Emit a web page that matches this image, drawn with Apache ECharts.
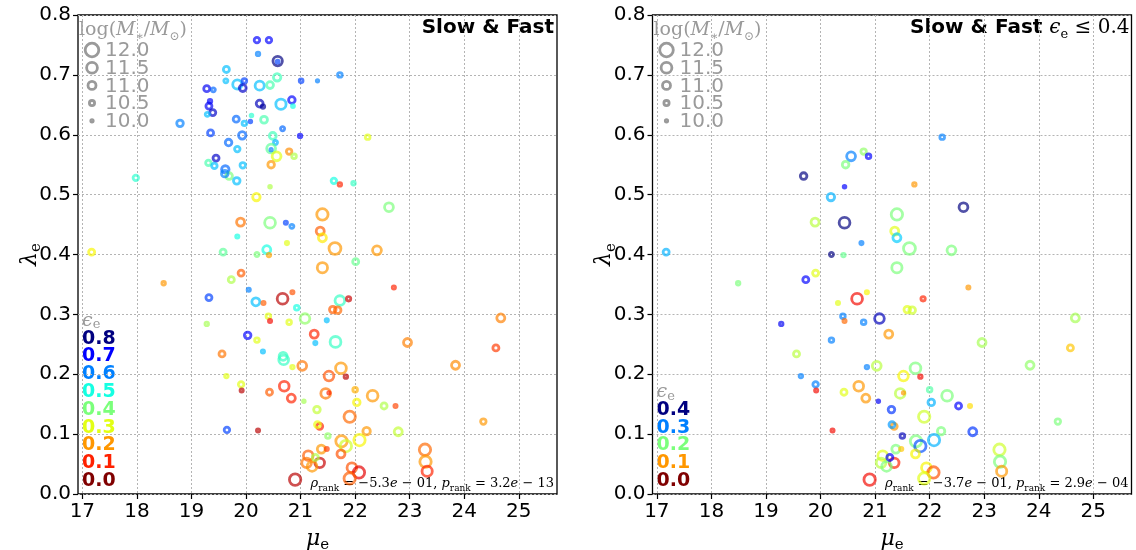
<!DOCTYPE html>
<html>
<head>
<meta charset="utf-8">
<script src="https://cdn.jsdelivr.net/npm/echarts@6/dist/echarts.min.js"></script>
<style>
  html, body { margin: 0; padding: 0; background: #fff; }
  #chart { width: 1136px; height: 550px; }
</style>
</head>
<body>
<div id="chart"></div>
<script>
// Galaxy sample: effective surface brightness, spin parameter, stellar mass, ellipticity
const MU = [
  20.20, 20.42, 20.22, 20.58, 20.58, 19.64, 19.63, 19.84, 19.97, 19.94,
  20.25, 20.44, 20.57, 21.01, 21.31, 19.28, 19.40, 19.34, 19.32, 19.39,
  19.29, 18.79, 20.25, 20.31, 20.64, 20.84, 20.86, 19.82, 19.97, 20.08,
  20.10, 20.33, 19.35, 19.93, 19.68, 19.84, 20.49, 20.54, 20.46, 20.46,
  20.56, 20.67, 20.99, 20.79, 20.88, 19.45, 19.31, 19.42, 19.62, 19.94,
  20.46, 19.69, 19.61, 19.83, 17.98, 21.72, 22.23, 20.44, 20.19, 19.90,
  20.44, 20.73, 20.84, 19.84, 20.75, 17.17, 19.58, 20.20, 20.38, 20.42,
  18.49, 19.91, 19.73, 20.05, 19.32, 20.18, 20.32, 20.67, 20.85, 20.93,
  21.08, 19.28, 20.41, 20.44, 20.79, 20.03, 20.20, 21.25, 21.61, 21.72,
  21.97, 22.62, 21.40, 21.36, 21.40, 21.63, 22.40, 22.01, 21.40, 22.71,
  21.72, 21.88, 21.59, 21.68, 21.48, 24.67, 21.64, 22.96, 24.58, 23.84,
  21.74, 21.52, 21.83, 22.00, 21.46, 21.52, 22.32, 22.03, 22.53, 22.74,
  21.30, 21.90, 24.35, 21.35, 21.31, 22.21, 22.79, 21.50, 21.75, 21.83,
  22.08, 21.38, 21.48, 21.74, 23.28, 23.29, 23.32, 21.35, 21.94, 22.07,
  21.90, 19.56, 20.31, 20.68, 20.69, 20.85, 21.03, 21.27, 19.64, 19.91,
  19.92, 20.43, 20.70, 20.83, 21.06, 19.65, 20.22, 21.14, 21.11, 21.21,
  20.90, 21.27
];
const LAMBDA = [
  0.758, 0.758, 0.735, 0.723, 0.722, 0.709, 0.690, 0.684, 0.690, 0.678,
  0.682, 0.683, 0.696, 0.690, 0.690, 0.677, 0.675, 0.656, 0.648, 0.637,
  0.634, 0.619, 0.652, 0.647, 0.651, 0.658, 0.648, 0.626, 0.619, 0.622,
  0.632, 0.625, 0.603, 0.599, 0.587, 0.576, 0.598, 0.587, 0.577, 0.575,
  0.564, 0.610, 0.598, 0.572, 0.564, 0.561, 0.553, 0.548, 0.542, 0.549,
  0.550, 0.531, 0.535, 0.523, 0.528, 0.700, 0.596, 0.513, 0.496, 0.454,
  0.453, 0.453, 0.447, 0.430, 0.419, 0.404, 0.404, 0.400, 0.408, 0.399,
  0.352, 0.369, 0.358, 0.341, 0.328, 0.321, 0.319, 0.326, 0.337, 0.311,
  0.293, 0.284, 0.297, 0.289, 0.287, 0.265, 0.257, 0.267, 0.523, 0.517,
  0.519, 0.479, 0.467, 0.439, 0.428, 0.410, 0.407, 0.388, 0.378, 0.345,
  0.323, 0.326, 0.308, 0.307, 0.290, 0.294, 0.254, 0.253, 0.244, 0.215,
  0.210, 0.197, 0.196, 0.174, 0.168, 0.169, 0.164, 0.153, 0.147, 0.147,
  0.141, 0.129, 0.121, 0.113, 0.116, 0.105, 0.104, 0.097, 0.088, 0.080,
  0.090, 0.075, 0.075, 0.067, 0.074, 0.054, 0.038, 0.052, 0.044, 0.036,
  0.026, 0.234, 0.238, 0.230, 0.224, 0.212, 0.214, 0.252, 0.197, 0.183,
  0.173, 0.170, 0.180, 0.160, 0.155, 0.107, 0.106, 0.064, 0.052, 0.046,
  0.024, 0.061
];
const LOGM = [
  10.55, 10.55, 10.20, 11.25, 10.10, 10.65, 10.30, 11.20, 10.40, 10.80,
  11.20, 10.80, 10.90, 10.25, 10.00, 10.65, 10.30, 10.20, 10.65, 10.65,
  10.30, 10.75, 10.80, 10.20, 11.40, 10.75, 10.10, 10.65, 10.40, 10.05,
  10.05, 10.80, 10.65, 10.90, 10.75, 10.55, 10.80, 10.30, 11.15, 10.00,
  11.15, 10.30, 10.20, 10.55, 10.40, 10.65, 10.55, 10.55, 10.90, 10.55,
  10.75, 10.75, 10.75, 10.75, 10.55, 10.40, 10.40, 10.05, 10.90, 11.00,
  11.50, 10.15, 10.30, 10.15, 10.15, 10.65, 10.65, 10.30, 11.00, 10.20,
  10.20, 10.65, 10.65, 10.15, 10.65, 11.00, 10.15, 11.50, 10.15, 10.40,
  11.30, 10.20, 10.40, 10.15, 10.40, 10.75, 10.40, 11.00, 10.55, 10.20,
  10.20, 11.15, 11.60, 11.00, 11.00, 11.70, 11.15, 10.65, 11.40, 10.15,
  11.30, 10.35, 10.75, 10.75, 10.15, 11.00, 11.50, 11.00, 10.65, 11.00,
  11.50, 11.30, 10.20, 10.40, 11.30, 10.00, 11.50, 10.75, 10.65, 10.15,
  10.75, 11.60, 10.55, 10.65, 10.65, 10.90, 11.00, 10.40, 11.60, 11.60,
  11.60, 11.00, 10.15, 11.00, 11.60, 11.60, 11.40, 11.30, 11.30, 11.60,
  11.60, 10.65, 10.15, 11.00, 11.30, 10.20, 11.15, 10.15, 10.20, 10.55,
  10.15, 10.65, 11.30, 11.00, 10.05, 10.55, 10.15, 11.30, 11.30, 11.30,
  11.60, 10.65
];
const EPS = [
  0.70, 0.70, 0.60, 0.80, 0.65, 0.55, 0.55, 0.55, 0.65, 0.75,
  0.55, 0.45, 0.46, 0.65, 0.60, 0.72, 0.62, 0.70, 0.72, 0.75,
  0.55, 0.60, 0.76, 0.78, 0.55, 0.70, 0.50, 0.62, 0.55, 0.65,
  0.48, 0.45, 0.65, 0.62, 0.62, 0.55, 0.46, 0.56, 0.43, 0.60,
  0.30, 0.62, 0.70, 0.19, 0.35, 0.75, 0.45, 0.55, 0.62, 0.55,
  0.20, 0.40, 0.60, 0.55, 0.48, 0.60, 0.30, 0.35, 0.28, 0.17,
  0.40, 0.65, 0.60, 0.50, 0.30, 0.28, 0.43, 0.40, 0.50, 0.21,
  0.20, 0.15, 0.35, 0.60, 0.65, 0.55, 0.15, 0.04, 0.14, 0.50,
  0.38, 0.36, 0.30, 0.08, 0.30, 0.70, 0.30, 0.10, 0.50, 0.10,
  0.47, 0.40, 0.20, 0.15, 0.27, 0.20, 0.20, 0.42, 0.20, 0.10,
  0.47, 0.05, 0.15, 0.16, 0.55, 0.18, 0.47, 0.18, 0.12, 0.19,
  0.20, 0.14, 0.04, 0.22, 0.17, 0.10, 0.20, 0.28, 0.35, 0.13,
  0.33, 0.16, 0.20, 0.10, 0.29, 0.20, 0.33, 0.38, 0.20, 0.32,
  0.28, 0.20, 0.12, 0.14, 0.16, 0.20, 0.10, 0.05, 0.14, 0.07,
  0.15, 0.17, 0.55, 0.47, 0.47, 0.30, 0.17, 0.55, 0.30, 0.30,
  0.04, 0.15, 0.10, 0.10, 0.36, 0.65, 0.04, 0.15, 0.17, 0.20,
  0.04, 0.35
];

// Axis ticks and legend entries
const X_TICKS = [17, 18, 19, 20, 21, 22, 23, 24, 25];
const Y_TICKS = [0.0, 0.1, 0.2, 0.3, 0.4, 0.5, 0.6, 0.7, 0.8];
const MASS_KEYS = [12.0, 11.5, 11.0, 10.5, 10.0];
const EPS_KEYS_ALL = [0.8, 0.7, 0.6, 0.5, 0.4, 0.3, 0.2, 0.1, 0.0];
const EPS_KEYS_LOW = [0.4, 0.3, 0.2, 0.1, 0.0];
const EPS_CUT = 0.4;
const RHO_RANK = ['\u22125.3', '\u22123.7'];
const RHO_EXP = ['01', '01'];
const P_RANK = ['3.2', '2.9'];
const P_EXP = ['13', '04'];

// ---- helpers ----
const JET = {
  r: [[0, 0], [0.35, 0], [0.66, 1], [0.89, 1], [1, 0.5]],
  g: [[0, 0], [0.125, 0], [0.375, 1], [0.64, 1], [0.91, 0], [1, 0]],
  b: [[0, 0.5], [0.11, 1], [0.34, 1], [0.65, 0], [1, 0]]
};
function seg(pts, t) {
  for (let i = 1; i < pts.length; i++) {
    if (t <= pts[i][0]) {
      const [x0, y0] = pts[i - 1], [x1, y1] = pts[i];
      return y0 + (y1 - y0) * (t - x0) / (x1 - x0);
    }
  }
  return pts[pts.length - 1][1];
}
// reversed jet: high ellipticity -> dark blue, round -> dark red
function epsColor(e, vmax, alpha) {
  const t = 1 - Math.min(Math.max(e / vmax, 0), 1);
  const r = Math.round(255 * seg(JET.r, t));
  const g = Math.round(255 * seg(JET.g, t));
  const b = Math.round(255 * seg(JET.b, t));
  return 'rgba(' + r + ',' + g + ',' + b + ',' + alpha + ')';
}
const RING = 2.8;
function ringDiameter(m) { return 5.2 + 5.6 * (m - 10); }

function buildData(vmax, cut) {
  const out = [];
  for (let i = 0; i < MU.length; i++) {
    if (EPS[i] > cut + 1e-9) continue;
    out.push({
      value: [MU[i], LAMBDA[i], LOGM[i], EPS[i]],
      symbolSize: Math.max(ringDiameter(LOGM[i]) - RING, 0.5),
      itemStyle: {
        color: 'rgba(255,255,255,0)',
        borderColor: epsColor(EPS[i], vmax, 0.85),
        borderWidth: RING
      }
    });
  }
  return out;
}

const GRID_TOP = 15, GRID_H = 479, GRID_W = 479;
const PANELS = [
  { left: 78, vmax: 0.8, cut: 1.0, keys: EPS_KEYS_ALL },
  { left: 652.5, vmax: 0.4, cut: EPS_CUT, keys: EPS_KEYS_LOW }
];

const SERIF = '"DejaVu Serif", "Liberation Serif", serif';
const SANS = '"DejaVu Sans", sans-serif';
const GREY = '#9a9a9a';

const grids = [], xAxes = [], yAxes = [], series = [], graphics = [];

PANELS.forEach((p, k) => {
  grids.push({
    left: p.left, top: GRID_TOP, width: GRID_W, height: GRID_H,
    show: true, borderColor: '#000', borderWidth: 1.3, backgroundColor: 'transparent'
  });
  xAxes.push({
    type: 'value', gridIndex: k, min: 16.92, max: 25.70,
    minInterval: 1, maxInterval: 1,
    axisLine: { show: false },
    axisTick: { show: true, inside: false, length: 5, customValues: X_TICKS,
                lineStyle: { color: '#000', width: 1.2 } },
    axisLabel: { customValues: X_TICKS, margin: 8, color: '#000',
                 fontFamily: SANS, fontSize: 20,
                 formatter: v => (Math.abs(v - Math.round(v)) < 1e-6 ? String(Math.round(v)) : '') },
    splitLine: { show: true, lineStyle: { color: '#b4b4b4', width: 1, type: [2, 2] } }
  });
  yAxes.push({
    type: 'value', gridIndex: k, min: 0, max: 0.8, interval: 0.1,
    axisLine: { show: false },
    axisTick: { show: true, inside: false, length: 5, lineStyle: { color: '#000', width: 1.2 } },
    axisLabel: { margin: 7, color: '#000', fontFamily: SANS, fontSize: 20,
                 formatter: v => v.toFixed(1) },
    splitLine: { show: true, lineStyle: { color: '#b4b4b4', width: 1, type: [2, 2] } }
  });
  series.push({
    type: 'scatter', xAxisIndex: k, yAxisIndex: k, symbol: 'circle',
    silent: true, animation: false,
    data: buildData(p.vmax, p.cut)
  });

  const L = p.left;
  const R = L + GRID_W;

  // stellar-mass key
  graphics.push({
    type: 'text', x: L + 1, y: 30,
    style: {
      text: '{r|log(}{i|M}{s|\u2217}{r|/}{i|M}{s|\u2299}{r|)}',
      verticalAlign: 'middle', align: 'left',
      rich: {
        r: { fontFamily: SERIF, fontSize: 19, fill: GREY, lineHeight: 26 },
        i: { fontFamily: SERIF, fontSize: 19, fontStyle: 'italic', fill: GREY, lineHeight: 26 },
        s: { fontFamily: SERIF, fontSize: 12, fill: GREY, lineHeight: 26, verticalAlign: 'bottom' }
      }
    }
  });
  MASS_KEYS.forEach((m, j) => {
    const cy = 50 + 17.7 * j;
    const r = Math.max((ringDiameter(m) - RING) / 2, 0.3);
    graphics.push({
      type: 'circle', shape: { cx: L + 14, cy: cy, r: r },
      style: { fill: 'none', stroke: GREY, lineWidth: RING }
    });
    graphics.push({
      type: 'text', x: L + 27, y: cy + 1,
      style: { text: m.toFixed(1), fontFamily: SANS, fontSize: 20, fill: GREY,
               align: 'left', verticalAlign: 'middle' }
    });
  });

  // ellipticity key
  const n = p.keys.length;
  const topKeyY = 480 - 17.8 * (n - 1);
  graphics.push({
    type: 'text', x: L + 4, y: topKeyY - 17,
    style: {
      text: '{i|\u03f5}{s|e}', align: 'left', verticalAlign: 'middle',
      rich: {
        i: { fontFamily: SERIF, fontSize: 19, fontStyle: 'italic', fill: GREY, lineHeight: 22 },
        s: { fontFamily: SERIF, fontSize: 13, fill: GREY, lineHeight: 22, verticalAlign: 'bottom' }
      }
    }
  });
  p.keys.forEach((e, j) => {
    graphics.push({
      type: 'text', x: L + 4, y: topKeyY + 17.8 * j + 1,
      style: { text: e.toFixed(1), fontFamily: SANS, fontWeight: 'bold', fontSize: 19,
               fill: epsColor(e, p.vmax, 1), align: 'left', verticalAlign: 'middle' }
    });
  });

  // panel title
  if (k === 0) {
    graphics.push({
      type: 'text', x: R - 3, y: 28,
      style: { text: 'Slow & Fast', fontFamily: SANS, fontWeight: 'bold', fontSize: 20,
               fill: '#000', align: 'right', verticalAlign: 'middle' }
    });
  } else {
    graphics.push({
      type: 'text', x: R - 2, y: 28,
      style: {
        text: '{b|Slow & Fast }{i|\u03f5}{s|e}{m| \u2264 0.4}',
        align: 'right', verticalAlign: 'middle',
        rich: {
          b: { fontFamily: SANS, fontWeight: 'bold', fontSize: 20, fill: '#000', lineHeight: 26 },
          i: { fontFamily: SERIF, fontStyle: 'italic', fontSize: 20, fill: '#000', lineHeight: 26 },
          s: { fontFamily: SERIF, fontSize: 13, fill: '#000', lineHeight: 26, verticalAlign: 'bottom' },
          m: { fontFamily: SERIF, fontSize: 20, fill: '#000', lineHeight: 26 }
        }
      }
    });
  }

  // rank correlation statistics
  graphics.push({
    type: 'text', x: R - 3, y: 484,
    style: {
      text: '{i|\u03c1}{s|rank}{n| = ' + RHO_RANK[k] + '}{i|e}{n| \u2212 ' + RHO_EXP[k] + ', }' +
            '{i|p}{s|rank}{n| = ' + P_RANK[k] + '}{i|e}{n| \u2212 ' + P_EXP[k] + '}',
      align: 'right', verticalAlign: 'middle',
      rich: {
        n: { fontFamily: SERIF, fontSize: 13, fill: '#000', lineHeight: 18 },
        i: { fontFamily: SERIF, fontSize: 13, fontStyle: 'italic', fill: '#000', lineHeight: 18 },
        s: { fontFamily: SERIF, fontSize: 9, fill: '#000', lineHeight: 18, verticalAlign: 'bottom' }
      }
    }
  });

  // axis titles
  graphics.push({
    type: 'text', x: L + GRID_W / 2, y: 539,
    style: {
      text: '{i|\u03bc}{s|e}', align: 'center', verticalAlign: 'middle',
      rich: {
        i: { fontFamily: SERIF, fontStyle: 'italic', fontSize: 22, fill: '#000', lineHeight: 28 },
        s: { fontFamily: SERIF, fontSize: 15, fill: '#000', lineHeight: 28, verticalAlign: 'bottom' }
      }
    }
  });
  graphics.push({
    type: 'text', x: L - 48, y: GRID_TOP + GRID_H / 2, rotation: Math.PI / 2,
    style: {
      text: '{i|\u03bb}{s|e}', align: 'center', verticalAlign: 'middle',
      rich: {
        i: { fontFamily: SERIF, fontStyle: 'italic', fontSize: 22, fill: '#000', lineHeight: 28 },
        s: { fontFamily: SERIF, fontSize: 15, fill: '#000', lineHeight: 28, verticalAlign: 'bottom' }
      }
    }
  });
});

const chart = echarts.init(document.getElementById('chart'), null, { renderer: 'canvas' });
chart.setOption({
  animation: false,
  backgroundColor: '#fff',
  grid: grids,
  xAxis: xAxes,
  yAxis: yAxes,
  series: series,
  graphic: graphics
});
</script>
</body>
</html>
